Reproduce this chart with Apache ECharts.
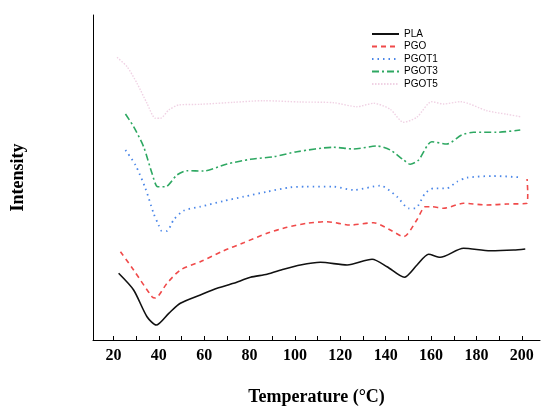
<!DOCTYPE html>
<html>
<head>
<meta charset="utf-8">
<script src="https://cdn.jsdelivr.net/npm/echarts@6/dist/echarts.min.js"></script>
<style>
  html, body { margin: 0; padding: 0; background: #fff; }
  #chart { width: 541px; height: 408px; }
</style>
</head>
<body>
<div id="chart"></div>
<script>
// [temperature, intensity (arb. units)]
const pla = [[22.3,66.7],[28.9,50],[34.8,23.3],[38.9,15],[44.4,26.7],[49.5,36.7],[58.3,45],[65.7,51.7],[73,56.7],[80.4,62.7],[87.7,65.7],[95,70.7],[102.4,75],[111.2,77.7],[123,75],[134,80.7],[140.6,73.3],[148.2,62.7],[153.8,75],[158.9,85.7],[164,82.7],[174.3,91.7],[186.1,89.3],[196.4,90],[201.5,91]];
const pgo = [[23.1,88.3],[28.9,70],[37,43.3],[38.5,42],[43.6,56.7],[49.5,70],[58.3,78.3],[68.6,89.3],[77.4,97.3],[87.7,106.7],[96.5,112.7],[105.3,116.7],[114.1,118.3],[124.4,115],[134.7,117.3],[142,110],[147.9,103.3],[153.7,120],[157.4,133.3],[160.3,133.3],[165.5,131.7],[174.3,136.7],[184.6,135],[193.4,136],[202.3,136.7],[202.6,147],[202.3,161]];
const pgot1 = [[25.3,190],[29.7,175],[34.1,151.7],[37.7,126.7],[39.9,115],[41.1,109.3],[43.6,109],[46.5,120],[50.9,129.3],[58.3,133.3],[68.6,139],[77.4,143.3],[87.7,148.3],[98,152.7],[104.6,153.3],[117,153.3],[125.9,150],[137.6,154.3],[145,143.3],[150.1,131.7],[153,131.7],[157.4,146.7],[161.1,151.7],[166.9,151.7],[171.4,158.3],[175.8,162.3],[187.5,164],[199.3,162.7]];
const pgot3 = [[25.3,226],[28.9,213.3],[33.3,193.3],[37,166.7],[39.5,153.3],[42.9,153.3],[48,165],[52.4,169.3],[59.7,169],[70.1,176],[80.4,180.7],[90.6,183.3],[100.9,188.3],[117,192.7],[125.9,191],[136.2,194],[142,190],[147.9,180],[150.8,175.7],[154.5,180],[160.3,198.3],[166.9,196],[173.5,205],[178.7,207.7],[188.9,207.7],[199.3,210]];
const pgot5 = [[21.6,282.7],[26,273.3],[30.4,256.7],[34.8,236.7],[38.5,221.7],[40.7,221.7],[44.4,230],[48.7,235],[58.3,235.7],[73,237.7],[86.2,239.3],[102.4,238],[117,237.3],[127.3,233.3],[134.7,236.7],[142,230.7],[147.9,217.7],[153.7,222.7],[160.3,238.3],[165.5,236],[172.9,238.3],[184.6,229.3],[193.4,225.7],[199.3,223.3]];

const seriesNames = ["PLA", "PGO", "PGOT1", "PGOT3", "PGOT5"];
const xLabels = [20, 40, 60, 80, 100, 120, 140, 160, 180, 200];
const xTicks = [20, 30, 40, 50, 60, 70, 80, 90, 100, 110, 120, 130, 140, 150, 160, 170, 180, 190, 200];

const chart = echarts.init(document.getElementById("chart"));

function line(name, data, color, type, width) {
  return {
    name: name,
    type: "line",
    data: data,
    symbol: "none",
    smooth: 0.25,
    color: color,
    lineStyle: { color: color, width: width, type: type }
  };
}

chart.setOption({
  animation: false,
  grid: { left: 93, right: 1, top: 15, bottom: 68, outerBoundsMode: "none", containLabel: false },
  legend: {
    orient: "vertical",
    left: 366,
    top: 24,
    itemWidth: 27,
    itemHeight: 10,
    itemGap: 2.5,
    itemStyle: { opacity: 0 },
    textStyle: { fontFamily: "Liberation Sans, Arial", fontSize: 10, color: "#000" },
    data: seriesNames
  },
  xAxis: {
    type: "value",
    min: 11,
    max: 208,
    name: "Temperature (°C)",
    nameLocation: "middle",
    nameGap: 48,
    nameTextStyle: { fontFamily: "Liberation Serif, Times New Roman", fontWeight: "bold", fontSize: 18, color: "#000" },
    axisLine: { show: true, lineStyle: { color: "#000", width: 1 } },
    axisTick: { show: true, inside: true, length: 4, customValues: xTicks, lineStyle: { color: "#000" } },
    axisLabel: {
      customValues: xLabels,
      margin: 8,
      fontFamily: "Liberation Serif, Times New Roman",
      fontWeight: "bold",
      fontSize: 16,
      color: "#000"
    },
    splitLine: { show: false }
  },
  yAxis: {
    type: "value",
    min: 0,
    max: 325,
    name: "Intensity",
    nameLocation: "middle",
    nameGap: 66,
    nameRotate: 90,
    nameTextStyle: { fontFamily: "Liberation Serif, Times New Roman", fontWeight: "bold", fontSize: 18, color: "#000" },
    axisLine: { show: true, lineStyle: { color: "#000", width: 1 } },
    axisTick: { show: false },
    axisLabel: { show: false },
    splitLine: { show: false }
  },
  series: [
    line("PLA", pla, "#111111", "solid", 1.6),
    line("PGO", pgo, "#f04a4a", [5, 4], 1.6),
    line("PGOT1", pgot1, "#4a86e8", [1.5, 4], 1.8),
    line("PGOT3", pgot3, "#2ea862", [7, 3, 2, 3], 1.6),
    line("PGOT5", pgot5, "#f0d2e4", [1.5, 1.5], 1.4)
  ]
});
</script>
</body>
</html>
